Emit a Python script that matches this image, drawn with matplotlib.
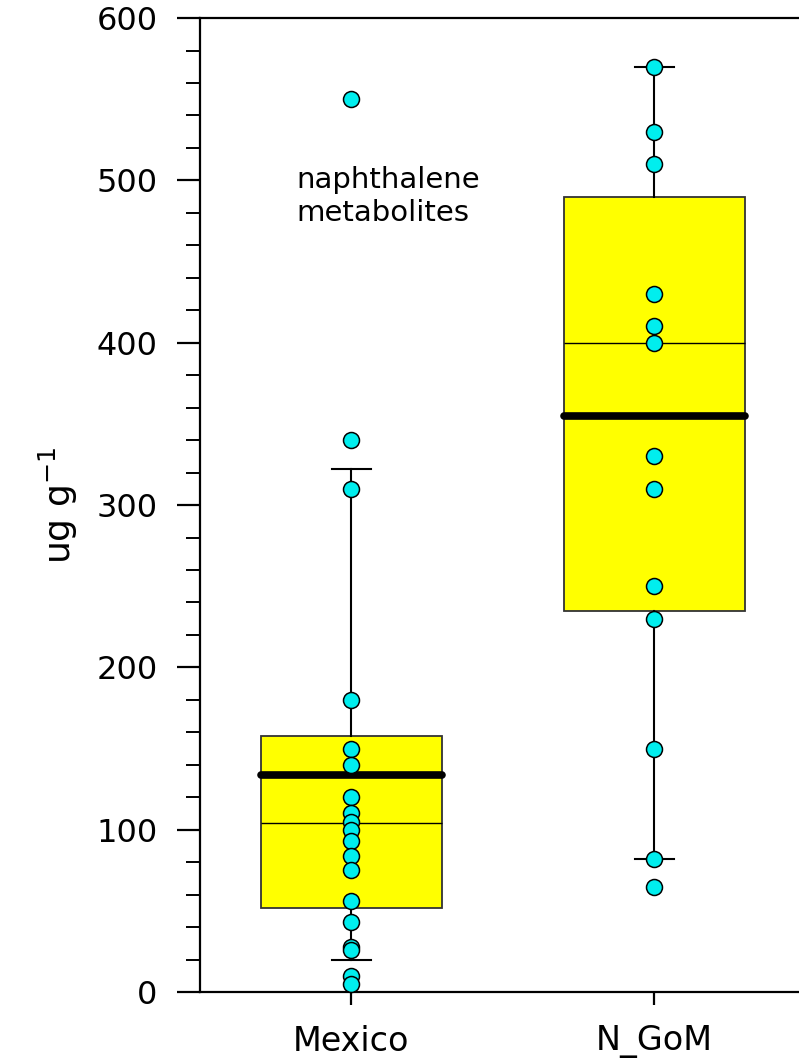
import matplotlib
matplotlib.use("Agg")
import matplotlib.pyplot as plt
from matplotlib.ticker import MultipleLocator

# naphthalene metabolites, ug g-1
groups = ["Mexico", "N_GoM"]
mexico = [550, 340, 310, 180, 150, 140, 120, 110, 105, 100, 93, 84, 75, 56, 43, 28, 26, 10, 5]
ngom = [570, 530, 510, 430, 410, 400, 330, 310, 250, 230, 150, 82, 65]

# box summaries (10th/25th/50th/75th/90th percentile + mean)
p10 = [20, 82]
q1 = [52, 235]
med = [104, 400]
q3 = [158, 490]
p90 = [322, 570]
means = [134, 355]

fig = plt.figure(figsize=(7.99, 10.61), dpi=100)
ax = fig.add_axes([0.2503, 0.065, 0.7497, 0.918])

stats = []
for i, g in enumerate(groups):
    stats.append(dict(label=g, whislo=p10[i], q1=q1[i], med=med[i], q3=q3[i],
                      whishi=p90[i], mean=means[i], fliers=[]))

ax.bxp(stats, positions=[1, 2], widths=0.6, capwidths=0.13, patch_artist=True,
       showmeans=True, meanline=True, zorder=2,
       boxprops=dict(facecolor="#ffff00", edgecolor="#333333", linewidth=1.3),
       medianprops=dict(color="black", linewidth=1.0),
       whiskerprops=dict(color="black", linewidth=1.5),
       capprops=dict(color="black", linewidth=1.5),
       meanprops=dict(color="black", linestyle="-", linewidth=5.5,
                      solid_capstyle="round"))

for i, vals in enumerate([mexico, ngom]):
    ax.plot([i + 1] * len(vals), vals, "o", ms=11.5, mfc="#00eeee", mec="black",
            mew=1.1, zorder=4, clip_on=False)

ax.text(1.122, 490, "naphthalene\nmetabolites", ha="center", va="center",
        multialignment="left", fontsize=21, linespacing=1.25)

ax.set_xlim(0.5, 2.477)
ax.set_ylim(0, 600)
ax.set_yticks(range(0, 601, 100))
ax.yaxis.set_minor_locator(MultipleLocator(20))
ax.set_xticks([1, 2])
ax.set_xticklabels(groups)

for s in ["left", "bottom", "top"]:
    ax.spines[s].set_linewidth(1.6)
ax.spines["right"].set_visible(False)

ax.tick_params(axis="y", which="major", direction="out", length=16.5, width=1.6,
               labelsize=23, pad=14)
ax.tick_params(axis="y", which="minor", direction="out", length=10, width=1.4)
ax.tick_params(axis="x", direction="out", length=9, width=1.6, labelsize=24, pad=15)

ax.set_ylabel(r"ug g$^{\mathregular{-1}}$", fontsize=26, labelpad=12)

fig.savefig("out.png", dpi=100)
